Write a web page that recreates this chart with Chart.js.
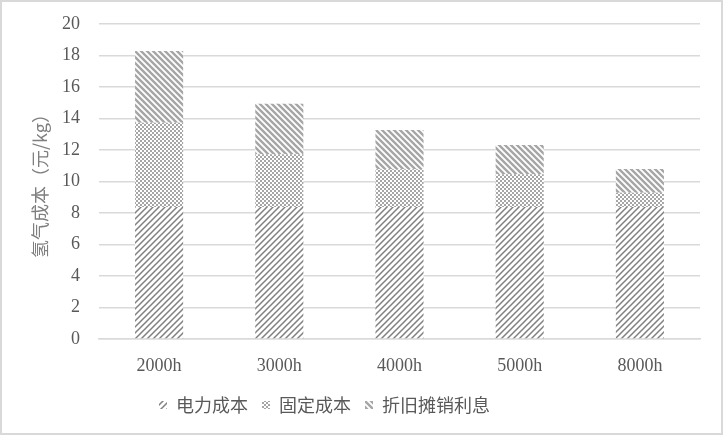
<!DOCTYPE html>
<html>
<head>
<meta charset="utf-8">
<script src="https://cdn.jsdelivr.net/npm/chart.js@4"></script>
<style>
  body { margin: 0; background: #fff; }
  #wrap { position: absolute; left: 0; top: 0; width: 724px; height: 436px; }
</style>
</head>
<body>
<div id="wrap"><canvas id="myChart" width="724" height="436"></canvas></div>
<script>
'use strict';

// data
let categories = ['2000h', '3000h', '4000h', '5000h', '8000h'];
let seriesNames = ['电力成本', '固定成本', '折旧摊销利息'];
let electricCost = [8.38, 8.38, 8.38, 8.38, 8.38];
let fixedCost = [5.35, 3.35, 2.39, 2.08, 0.91];
let depreciation = [4.56, 3.21, 2.50, 1.86, 1.50];
let yTicks = [0, 2, 4, 6, 8, 10, 12, 14, 16, 18, 20];

function makeTile(size, drawFn) {
  let c = document.createElement('canvas');
  c.width = size;
  c.height = size;
  let g = c.getContext('2d');
  g.fillStyle = '#fff';
  g.fillRect(0, 0, size, size);
  drawFn(g, size);
  return document.getElementById('myChart').getContext('2d').createPattern(c, 'repeat');
}

// upward diagonal thin dark lines
let electricPattern = makeTile(6, function (g, s) {
  g.strokeStyle = '#808080';
  g.lineWidth = 1.5;
  g.beginPath();
  g.moveTo(-1, s + 1); g.lineTo(s + 1, -1);
  g.moveTo(-1, 1); g.lineTo(1, -1);
  g.moveTo(s - 1, s + 1); g.lineTo(s + 1, s - 1);
  g.stroke();
});

// small checkerboard
let fixedPattern = makeTile(4, function (g, s) {
  g.fillStyle = '#a6a6a6';
  g.fillRect(0, 0, 2, 2);
  g.fillRect(2, 2, 2, 2);
});

// downward diagonal wide lines
let deprPattern = makeTile(6, function (g, s) {
  g.strokeStyle = '#a6a6a6';
  g.lineWidth = 2.4;
  g.beginPath();
  g.moveTo(-1, -1); g.lineTo(s + 1, s + 1);
  g.moveTo(s - 1, -1); g.lineTo(s + 1, 1);
  g.moveTo(-1, s - 1); g.lineTo(1, s + 1);
  g.stroke();
});

const frame = {
  id: 'frame',
  afterLayout(chart) {
    // legend in the original sits left of centre and a bit lower
    let lg = chart.legend;
    lg.left -= 40;
    lg.right -= 40;
    lg.top += 11;
    lg.bottom += 11;
  },
  beforeDraw(chart) {
    let ctx = chart.ctx;
    ctx.save();
    ctx.fillStyle = '#fff';
    ctx.fillRect(0, 0, chart.width, chart.height);
    ctx.strokeStyle = '#d9d9d9';
    ctx.lineWidth = 2;
    ctx.strokeRect(1, 1, chart.width - 3, chart.height - 3);
    ctx.restore();
  }
};

const data = {
  labels: categories,
  datasets: [
    { label: seriesNames[0], data: electricCost, backgroundColor: electricPattern },
    { label: seriesNames[1], data: fixedCost, backgroundColor: fixedPattern },
    { label: seriesNames[2], data: depreciation, backgroundColor: deprPattern }
  ]
};

const config = {
  type: 'bar',
  data: data,
  plugins: [frame],
  options: {
    responsive: false,
    animation: false,
    datasets: { bar: { categoryPercentage: 1, barPercentage: 0.4, borderWidth: 0 } },
    layout: { padding: { left: 29, right: 24, top: 24, bottom: 23 } },
    plugins: {
      tooltip: { enabled: false },
      legend: {
        position: 'bottom',
        labels: {
          boxWidth: 8,
          boxHeight: 8,
          padding: 14,
          color: '#595959',
          font: { family: '"Noto Sans CJK SC"', size: 18 }
        }
      }
    },
    scales: {
      x: {
        stacked: true,
        afterFit(scale) {
          scale.height = 32;
        },
        grid: { display: false },
        border: { color: '#d9d9d9', width: 1.5 },
        ticks: {
          color: '#595959',
          padding: 8,
          font: { family: '"Liberation Serif"', size: 18 }
        }
      },
      y: {
        stacked: true,
        min: 0,
        max: 20,
        afterBuildTicks(scale) {
          scale.ticks = yTicks.map(v => ({ value: v }));
        },
        afterFit(scale) {
          scale.width = 70;
        },
        grid: { color: '#d9d9d9', lineWidth: 1.5, tickLength: 17, tickColor: 'rgba(0,0,0,0)' },
        border: { display: false },
        ticks: {
          color: '#595959',
          padding: 2,
          font: { family: '"Liberation Serif"', size: 18 }
        },
        title: {
          display: true,
          text: '氢气成本（元/kg）',
          color: '#7f7f7f',
          padding: 0,
          font: { family: '"Noto Sans CJK SC"', size: 18 }
        }
      }
    }
  }
};

const myChart = new Chart(document.getElementById('myChart'), config);
</script>
</body>
</html>
